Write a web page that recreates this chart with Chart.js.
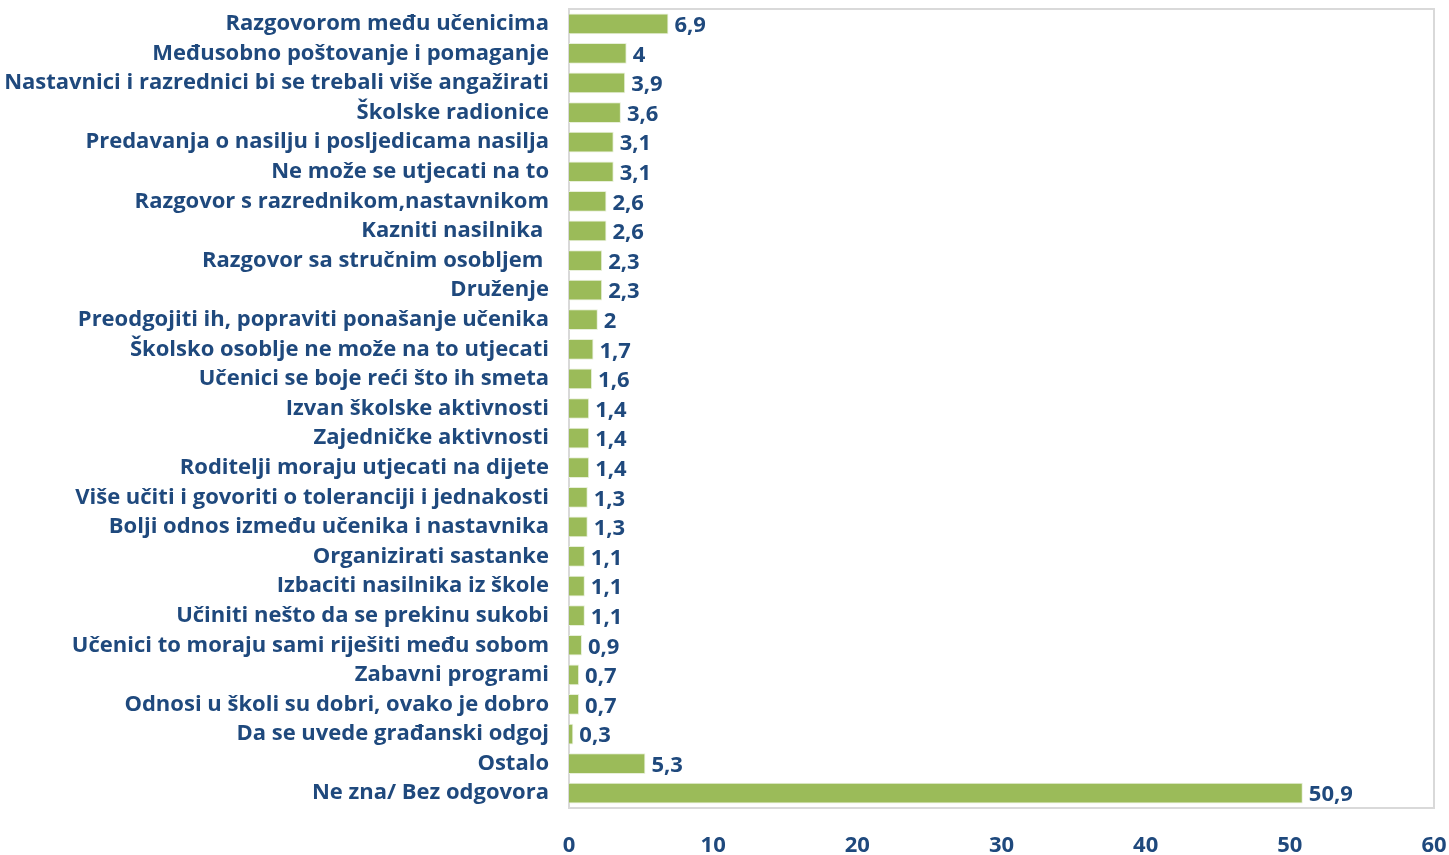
<!DOCTYPE html>
<html>
<head>
<meta charset="utf-8">
<script src="https://cdn.jsdelivr.net/npm/chart.js@4.4.0/dist/chart.umd.min.js"></script>
<style>
  html, body { margin: 0; padding: 0; background: #fff; }
  #wrap { width: 1449px; height: 855px; }
</style>
</head>
<body>
<div id="wrap"><canvas id="barChart"></canvas></div>
<script>
// Categories (top to bottom)
const categories = [
  'Razgovorom među učenicima',
  'Međusobno poštovanje i pomaganje',
  'Nastavnici i razrednici bi se trebali više angažirati',
  'Školske radionice',
  'Predavanja o nasilju i posljedicama nasilja',
  'Ne može se utjecati na to',
  'Razgovor s razrednikom,nastavnikom',
  'Kazniti nasilnika ',
  'Razgovor sa stručnim osobljem ',
  'Druženje',
  'Preodgojiti ih, popraviti ponašanje učenika',
  'Školsko osoblje ne može na to utjecati',
  'Učenici se boje reći što ih smeta',
  'Izvan školske aktivnosti',
  'Zajedničke aktivnosti',
  'Roditelji moraju utjecati na dijete',
  'Više učiti i govoriti o toleranciji i jednakosti',
  'Bolji odnos između učenika i nastavnika',
  'Organizirati sastanke',
  'Izbaciti nasilnika iz škole',
  'Učiniti nešto da se prekinu sukobi',
  'Učenici to moraju sami riješiti među sobom',
  'Zabavni programi',
  'Odnosi u školi su dobri, ovako je dobro',
  'Da se uvede građanski odgoj',
  'Ostalo',
  'Ne zna/ Bez odgovora'
];

// Percentages
const values = [6.9, 4, 3.9, 3.6, 3.1, 3.1, 2.6, 2.6, 2.3, 2.3, 2, 1.7, 1.6, 1.4, 1.4, 1.4,
  1.3, 1.3, 1.1, 1.1, 1.1, 0.9, 0.7, 0.7, 0.3, 5.3, 50.9];

const xMin = 0, xMax = 60, xStep = 10;

const textColor = '#1F497D';
const fontFamily = '"Open Sans", Lato, sans-serif';

// Draw the value labels next to each bar (comma decimal)
const valueLabels = {
  id: 'valueLabels',
  afterDatasetsDraw(chart) {
    const ctx = chart.ctx;
    const meta = chart.getDatasetMeta(0);
    ctx.save();
    ctx.fillStyle = textColor;
    ctx.font = 'bold 22px ' + fontFamily;
    ctx.textBaseline = 'middle';
    ctx.textAlign = 'left';
    meta.data.forEach((bar, i) => {
      const txt = String(values[i]).replace('.', ',');
      ctx.fillText(txt, bar.x + 6, bar.y + 2);
    });
    ctx.restore();
  }
};

// Grey frame around the plot area
const plotFrame = {
  id: 'plotFrame',
  beforeDatasetsDraw(chart) {
    const a = chart.chartArea;
    const ctx = chart.ctx;
    ctx.save();
    ctx.strokeStyle = '#D9D9D9';
    ctx.lineWidth = 2;
    ctx.strokeRect(a.left, a.top, a.right - a.left, a.bottom - a.top);
    ctx.restore();
  }
};

new Chart(document.getElementById('barChart'), {
  type: 'bar',
  data: {
    labels: categories,
    datasets: [{
      data: values,
      backgroundColor: '#9BBB59',
      borderColor: '#E8F0DA',
      borderWidth: 1,
      barPercentage: 0.7,
      categoryPercentage: 1.0
    }]
  },
  options: {
    indexAxis: 'y',
    responsive: true,
    maintainAspectRatio: false,
    animation: false,
    layout: { padding: { top: 9, right: 15, left: 0, bottom: 0 } },
    plugins: {
      legend: { display: false },
      tooltip: { enabled: false }
    },
    scales: {
      x: {
        min: xMin,
        max: xMax,
        ticks: {
          stepSize: xStep,
          color: textColor,
          padding: 25,
          font: { family: fontFamily, size: 22, weight: 'bold' }
        },
        grid: { display: false, drawTicks: false },
        border: { display: false },
        afterFit(scale) {
          scale.height = 47;
          scale.paddingLeft = 0;
          scale.paddingRight = 0;
        }
      },
      y: {
        ticks: {
          color: textColor,
          padding: 20,
          autoSkip: false,
          font: { family: fontFamily, size: 22, weight: 'bold' }
        },
        grid: { display: false, drawTicks: false },
        border: { display: false },
        afterFit(scale) {
          scale.width = 569;
          scale.paddingTop = 0;
          scale.paddingBottom = 0;
        }
      }
    }
  },
  plugins: [plotFrame, valueLabels]
});
</script>
</body>
</html>
